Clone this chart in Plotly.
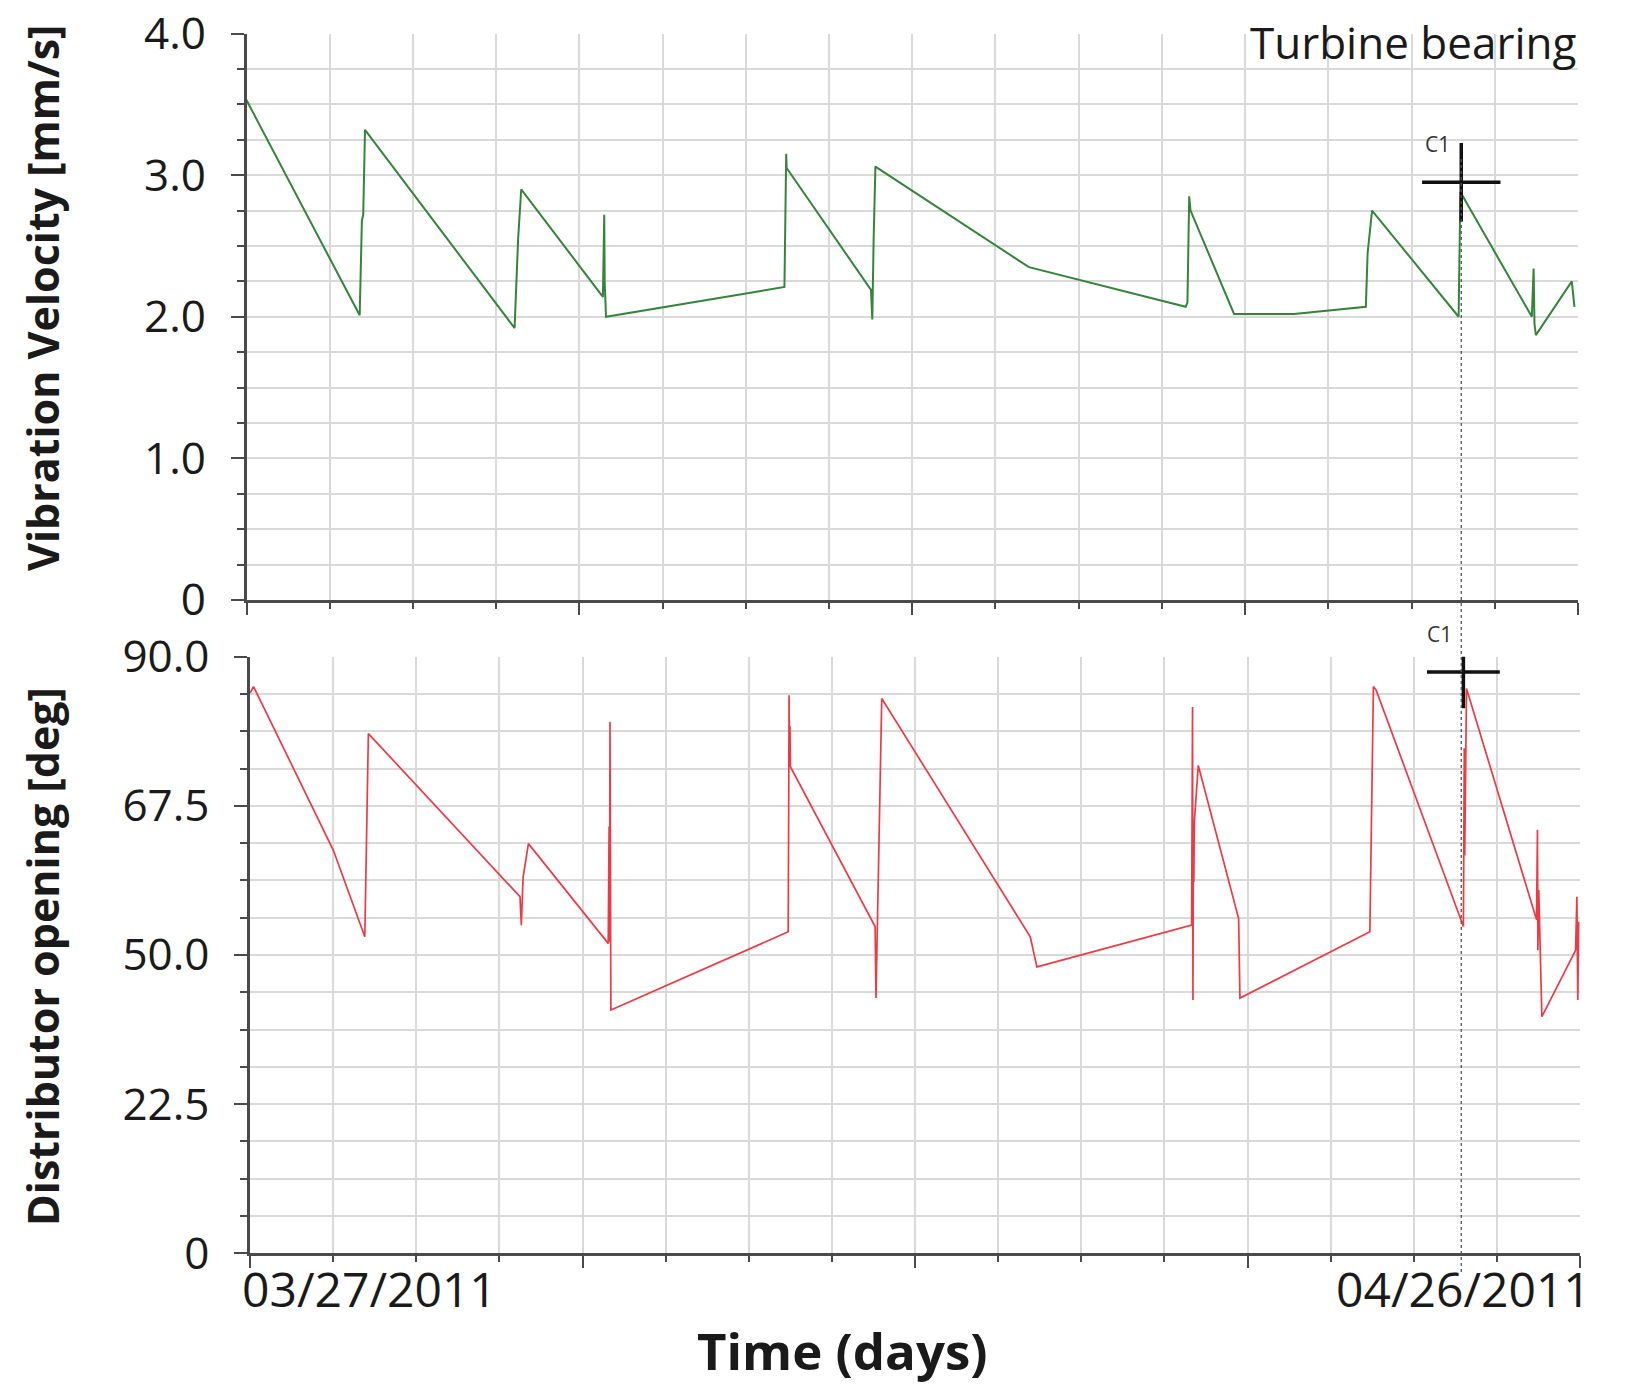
import plotly.graph_objects as go

# ---- data: time in days since 03/27/2011 ----
days_vib = [0.00, 2.55, 2.60, 2.63, 2.67, 6.04, 6.12, 6.15, 6.19, 8.03, 8.06, 8.07,
            8.10, 12.12, 12.16, 12.17, 14.07, 14.10, 14.13, 14.17, 17.63, 21.16,
            21.20, 21.24, 21.27, 22.25, 23.60, 25.22, 25.26, 25.36, 27.31, 27.35,
            28.96, 29.00, 29.02, 29.05, 29.86, 29.92]
vib = [3.53, 2.01, 2.68, 2.72, 3.32, 1.92, 2.55, 2.70, 2.90, 2.14, 2.72, 2.25,
       2.00, 2.21, 3.15, 3.05, 2.19, 1.98, 2.55, 3.06, 2.35, 2.07,
       2.10, 2.85, 2.75, 2.02, 2.02, 2.07, 2.45, 2.75, 2.00, 2.88,
       2.00, 2.34, 1.95, 1.87, 2.25, 2.07]

days_dist = [0.00, 0.08, 1.88, 2.59, 2.67, 6.09, 6.12, 6.16, 6.28, 8.08, 8.10, 8.11,
             8.12, 8.14, 12.14, 12.16, 12.17, 12.18, 12.19, 14.10, 14.12, 14.25,
             17.60, 17.75, 21.24, 21.26, 21.27, 21.28, 21.29, 21.30, 21.39, 22.30,
             22.33, 25.26, 25.34, 25.40, 27.37, 27.39, 27.40, 27.44, 29.02, 29.04,
             29.05, 29.07, 29.14, 29.90, 29.93, 29.95, 29.97]
dist = [84.5, 85.5, 60.8, 47.75, 78.4, 53.8, 49.5, 56.7, 61.8, 46.75, 64.4, 47.0,
        80.2, 36.7, 48.5, 84.2, 73.4, 79.5, 73.4, 49.3, 38.5, 83.7,
        47.75, 43.2, 49.5, 82.4, 38.2, 65.0, 56.0, 65.0, 73.6, 50.5,
        38.5, 48.5, 85.5, 85.0, 49.3, 76.2, 60.0, 85.2, 50.3, 63.9,
        45.7, 54.8, 35.7, 45.7, 53.8, 38.2, 50.0]

# cursor C1
cursor_day = 27.37
cursor_vib = 2.95
cursor_dist = 87.7
cursor_name = "C1"

vib_tickvals = [0, 1, 2, 3, 4]
vib_ticktext = ["0", "1.0", "2.0", "3.0", "4.0"]
dist_tickvals = [0, 22.5, 45, 67.5, 90]
dist_ticktext = ["0", "22.5", "50.0", "67.5", "90.0"]
date_labels = ["03/27/2011", "04/26/2011"]
date_label_days = [0.0, 27.37]

W, H = 1627, 1387
FONT = "Open Sans"
TEXT_COL = "#1a1a1a"
AXIS_COL = "#4a4a4a"
GRID_COL = "#d9d9d9"


def px_x(p):
    return p / W


def px_y(p):
    return 1 - p / H


fig = go.Figure()

fig.add_trace(go.Scatter(x=days_vib, y=vib, mode="lines",
                         line=dict(color="#35843a", width=2),
                         xaxis="x", yaxis="y", showlegend=False))
fig.add_trace(go.Scatter(x=days_dist, y=dist, mode="lines",
                         line=dict(color="#ee3a44", width=1.7),
                         xaxis="x2", yaxis="y2", showlegend=False))

# crosshair markers of the cursor
fig.add_trace(go.Scatter(x=[cursor_day], y=[cursor_vib], mode="markers",
                         marker=dict(symbol="cross-thin", size=56,
                                     line=dict(color="#111", width=3.5)),
                         xaxis="x", yaxis="y", showlegend=False))
fig.add_trace(go.Scatter(x=[cursor_day], y=[cursor_dist], mode="markers",
                         marker=dict(symbol="cross-thin", size=52,
                                     line=dict(color="#111", width=3.5)),
                         xaxis="x2", yaxis="y2", showlegend=False))

xaxis_common = dict(
    range=[0, 30], tick0=0, dtick=7.5, showticklabels=False, automargin=False,
    ticks="outside", ticklen=12, tickwidth=2, tickcolor=AXIS_COL,
    showline=True, linecolor=AXIS_COL, linewidth=2.5,
    showgrid=True, gridcolor=GRID_COL, gridwidth=2, zeroline=False,
    minor=dict(tick0=0, dtick=1.875, ticks="outside", ticklen=6, tickwidth=2,
               tickcolor=AXIS_COL, showgrid=True, gridcolor=GRID_COL, gridwidth=2),
)

yaxis_common = dict(
    ticks="outside", ticklen=13, tickwidth=2, tickcolor=AXIS_COL, automargin=False,
    showline=True, linecolor=AXIS_COL, linewidth=2.5,
    showgrid=True, gridcolor=GRID_COL, gridwidth=2, zeroline=False,
    tickfont=dict(family=FONT, size=44, color=TEXT_COL),
    ticklabelstandoff=16, ticklabeloverflow="allow",
)

fig.update_layout(
    width=W, height=H,
    margin=dict(l=0, r=0, t=0, b=0, autoexpand=False),
    paper_bgcolor="white", plot_bgcolor="white",
    xaxis=dict(domain=[px_x(246.5), px_x(1578)], anchor="y", **xaxis_common),
    xaxis2=dict(domain=[px_x(250), px_x(1580)], anchor="y2", **xaxis_common),
    yaxis=dict(domain=[px_y(600), px_y(33.5)], anchor="x", range=[0, 4],
               tickmode="array", tickvals=vib_tickvals, ticktext=vib_ticktext,
               minor=dict(tickmode="linear", tick0=0, dtick=0.25, ticks="outside",
                          ticklen=7, tickwidth=2, tickcolor=AXIS_COL,
                          showgrid=True, gridcolor=GRID_COL, gridwidth=2),
               **yaxis_common),
    yaxis2=dict(domain=[px_y(1253.3), px_y(656.7)], anchor="x2", range=[0, 90],
                tickmode="array", tickvals=dist_tickvals, ticktext=dist_ticktext,
                minor=dict(tickmode="linear", tick0=0, dtick=5.625, ticks="outside",
                           ticklen=7, tickwidth=2, tickcolor=AXIS_COL,
                           showgrid=True, gridcolor=GRID_COL, gridwidth=2),
                **yaxis_common),
)

# cursor line running through both panels
fig.add_shape(type="line", xref="x", yref="paper",
              x0=cursor_day, x1=cursor_day, y0=px_y(1272), y1=px_y(158),
              line=dict(color="#555", width=1.3, dash="dot"), layer="above")

annotations = [
    dict(text="Turbine bearing", xref="paper", yref="paper",
         x=px_x(1579), y=px_y(42), xanchor="right", yanchor="middle",
         showarrow=False, font=dict(family=FONT, size=44, color=TEXT_COL)),
    dict(text="Vibration Velocity [mm/s]", xref="paper", yref="paper",
         x=px_x(42), y=px_y(298), xanchor="center", yanchor="middle", textangle=-90,
         showarrow=False, font=dict(family=FONT, size=43, color=TEXT_COL, weight="bold")),
    dict(text="Distributor opening [deg]", xref="paper", yref="paper",
         x=px_x(42), y=px_y(957), xanchor="center", yanchor="middle", textangle=-90,
         showarrow=False, font=dict(family=FONT, size=43, color=TEXT_COL, weight="bold")),
    dict(text="Time (days)", xref="paper", yref="paper",
         x=px_x(842), y=px_y(1350), xanchor="center", yanchor="middle",
         showarrow=False, font=dict(family=FONT, size=51, color=TEXT_COL, weight="bold")),
    dict(text=date_labels[0], xref="x2", yref="paper",
         x=date_label_days[0], y=px_y(1288), xanchor="left", yanchor="middle", xshift=-10,
         showarrow=False, font=dict(family=FONT, size=48, color=TEXT_COL)),
    dict(text=date_labels[1], xref="x2", yref="paper",
         x=date_label_days[1], y=px_y(1288), xanchor="center", yanchor="middle",
         showarrow=False, font=dict(family=FONT, size=48, color=TEXT_COL)),
    dict(text=cursor_name, xref="x", yref="y", x=cursor_day, y=cursor_vib,
         xshift=-24, yshift=38, showarrow=False,
         font=dict(family=FONT, size=21, color="#333")),
    dict(text=cursor_name, xref="x2", yref="y2", x=cursor_day, y=cursor_dist,
         xshift=-24, yshift=38, showarrow=False,
         font=dict(family=FONT, size=21, color="#333")),
]
fig.update_layout(annotations=annotations)

fig.write_html("out.html")
